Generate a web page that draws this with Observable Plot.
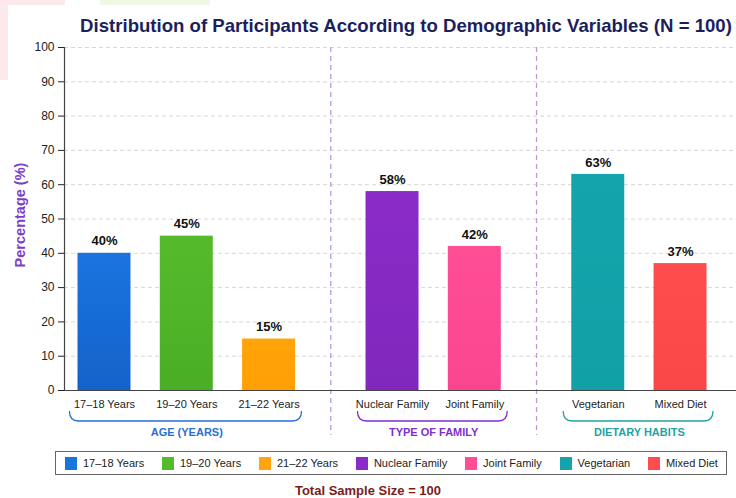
<!DOCTYPE html>
<html><head><meta charset="utf-8">
<script src="https://cdn.jsdelivr.net/npm/d3@7"></script>
<script src="https://cdn.jsdelivr.net/npm/@observablehq/plot@0.6"></script>
<style>
html,body{margin:0;padding:0;}
body{width:736px;height:498px;position:relative;overflow:hidden;background:#fff;font-family:"Liberation Sans",Arial,sans-serif;}
#bg-pink{position:absolute;left:0;top:0;width:65px;height:80px;background:#fde8eb;}
#bg-green{position:absolute;left:100px;top:0;width:110px;height:5px;background:#eef8e4;}
#panel{position:absolute;left:8px;top:5px;right:0;bottom:0;background:#fff;}
#title{position:absolute;left:76px;width:660px;top:14px;text-align:center;font-weight:bold;font-size:18.6px;color:#1b1f5e;line-height:24px;white-space:nowrap;}
#chart{position:absolute;left:0;top:40px;}
#legend{position:absolute;left:55px;top:451px;width:653px;height:22px;padding:0 8px 0 9px;border:1.5px solid #666;display:flex;align-items:center;justify-content:space-between;box-sizing:content-box;}
.item{display:flex;align-items:center;font-size:11px;color:#222;white-space:nowrap;}
.sw{width:12px;height:13px;margin-right:6px;}
#footer{position:absolute;left:0;width:736px;top:483px;text-align:center;font-weight:bold;font-size:13px;color:#7b1c1c;}
</style></head>
<body>
<div id="bg-pink"></div><div id="bg-green"></div><div id="panel"></div>
<div id="title">Distribution of Participants According to Demographic Variables (N = 100)</div>
<div id="chart"></div>
<div id="legend"></div>
<div id="footer">Total Sample Size = 100</div>
<script>
const categories = ["17–18 Years","19–20 Years","21–22 Years","Nuclear Family","Joint Family","Vegetarian","Mixed Diet"];
const values = [40,45,15,58,42,63,37];
const groupOf = [0,0,0,1,1,2,2];
const groupNames = ["AGE (YEARS)","TYPE OF FAMILY","DIETARY HABITS"];
const barColors = ["#1a74e0","#55bb2c","#ffa40a","#8a2bc8","#ff4d96","#14a5ac","#ff4d4d"];
const barColorsDark = ["#1462c9","#4aae25","#ff9f05","#8028bd","#fb468f","#11a0a6","#f94747"];
const groupColors = ["#2a6fd6","#7d2fcf","#1fa3a0"];
const yTicks = [0,10,20,30,40,50,60,70,80,90,100];

const data = categories.map((c,i)=>({cat:c, value:values[i], group:groupOf[i], color:`url(#grad${i})`, slot:i + groupOf[i]*0.5}));
const groups = groupNames.map((g,k)=>{
  const s = data.filter(d=>d.group===k).map(d=>d.slot);
  return {name:g, color:groupColors[k], first:d3.min(s), last:d3.max(s), mid:(d3.min(s)+d3.max(s))/2};
});
const dividers = groups.slice(1).map((g,k)=>(groups[k].last + g.first)/2);
const xDomain = [-0.486, 7.68];

const plot = Plot.plot({
  width:736, height:406,
  marginLeft:64, marginRight:0, marginTop:7, marginBottom:56,
  x:{domain:xDomain, axis:null},
  y:{domain:[0,100]},
  style:{fontFamily:"Liberation Sans, Arial, sans-serif", background:"transparent"},
  marks:[
    Plot.ruleY(yTicks.filter(t=>t>0), {stroke:"#d6d6d6", strokeDasharray:"4,3"}),
    Plot.ruleX(dividers, {stroke:"#b99ad9", strokeWidth:1.3, strokeDasharray:"5,4", insetBottom:-45}),
    Plot.rectY(data, {x1:d=>d.slot-0.322, x2:d=>d.slot+0.322, y1:0, y2:"value", fill:"color"}),
    Plot.text(data, {x:"slot", y:"value", text:d=>d.value+"%", dy:-12, fontSize:13, fontWeight:"bold", fill:"#111"}),
    Plot.text(data, {x:"slot", y:0, text:"cat", dy:14, fontSize:11, fill:"#222"}),
    Plot.text(groups, {x:"mid", y:0, text:"name", dy:42, fontSize:11, fontWeight:"bold", fill:"color"}),
    Plot.ruleY([0], {stroke:"#444", strokeWidth:1.2}),
    Plot.ruleX([xDomain[0]], {stroke:"#444", strokeWidth:1.2}),
    Plot.axisY({ticks:yTicks, tickSize:6, tickPadding:4, fontSize:12, label:null, color:"#222"}),
    Plot.text(["Percentage (%)"], {frameAnchor:"left", textAnchor:"middle", rotate:-90, dx:-44, dy:-4, fontSize:14.5, fontWeight:"bold", fill:"#7a3fc8"})
  ]
});

const svg = d3.select(plot);
const defs = svg.insert("defs",":first-child");
barColors.forEach((c,i)=>{
  const g = defs.append("linearGradient").attr("id","grad"+i).attr("x1",0).attr("x2",0).attr("y1",0).attr("y2",1);
  g.append("stop").attr("offset","0%").attr("stop-color",c);
  g.append("stop").attr("offset","100%").attr("stop-color",barColorsDark[i]);
});
const xs = plot.scale("x"), ys = plot.scale("y");
const y0 = ys.apply(0);
const bg = svg.append("g").attr("fill","none").attr("stroke-width",1.3);
groups.forEach(g=>{
  const xa = xs.apply(g.first-0.42), xb = xs.apply(g.last+0.40);
  const ya = y0+21, yb = y0+31;
  bg.append("path").attr("stroke",g.color)
    .attr("d",`M${xa},${ya} Q${xa},${yb} ${xa+9},${yb} L${xb-9},${yb} Q${xb},${yb} ${xb},${ya}`);
});
document.getElementById("chart").appendChild(plot);

const leg = d3.select("#legend");
categories.forEach((c,i)=>{
  const it = leg.append("div").attr("class","item");
  it.append("div").attr("class","sw").style("background",barColors[i]);
  it.append("span").text(c);
});
</script>
</body></html>
